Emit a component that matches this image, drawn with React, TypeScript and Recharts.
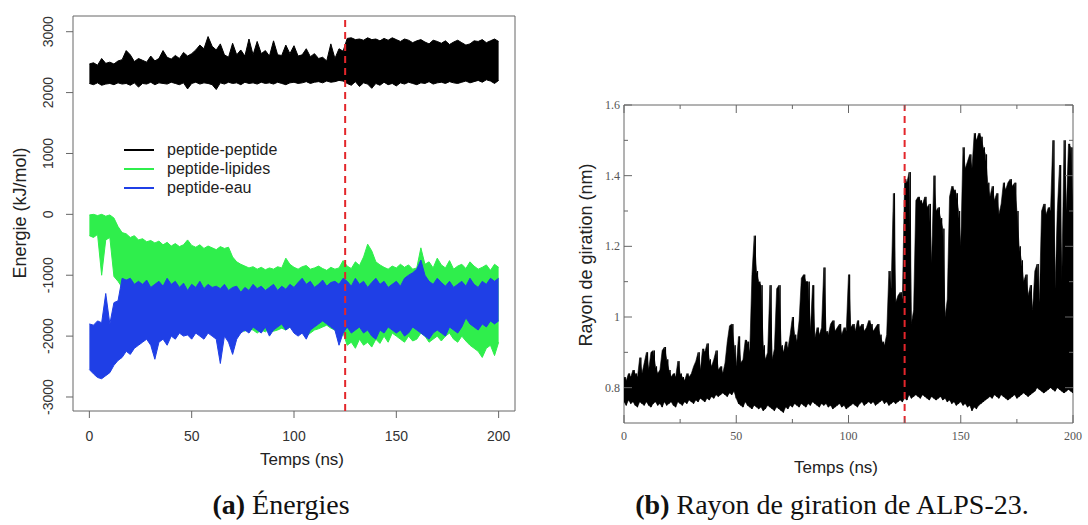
import React from "react";
import { ComposedChart, Area, Line, XAxis, YAxis, ReferenceLine, ReferenceArea, Legend } from "recharts";

// ── (a) energies, lower / upper edge of each noisy trace, every 2 ns ──
const ENERGY_STEP = 2;

const PP_HIGH = [
  2470, 2490, 2450, 2560, 2480, 2500, 2470, 2520, 2540, 2690,
  2620, 2510, 2560, 2530, 2500, 2600, 2520, 2560, 2690, 2580,
  2550, 2610, 2560, 2660, 2600, 2640, 2700, 2780, 2720, 2920,
  2760, 2700, 2800, 2620, 2580, 2810, 2620, 2700, 2600, 2880,
  2620, 2840, 2640, 2690, 2600, 2850, 2620, 2610, 2780, 2640,
  2770, 2600, 2620, 2720, 2590, 2640, 2560, 2580, 2520, 2800,
  2560, 2720, 2680, 2890, 2900, 2870, 2880, 2860, 2900, 2870,
  2880, 2850, 2890, 2860, 2900, 2870, 2840, 2880, 2860, 2820,
  2850, 2870, 2830, 2800, 2860, 2840, 2810, 2850, 2790, 2830,
  2860, 2820, 2780, 2800, 2850, 2840, 2870, 2820, 2850, 2880,
  2840,
];
const PP_LOW = [
  2150, 2130, 2160, 2120, 2140, 2150, 2130, 2160, 2140, 2150,
  2120, 2160, 2090, 2150, 2140, 2170, 2130, 2160, 2150, 2140,
  2170, 2150, 2130, 2160, 2060, 2150, 2170, 2140, 2160, 2150,
  2130, 2050, 2160, 2140, 2170, 2150, 2160, 2130, 2170, 2150,
  2160, 2140, 2170, 2150, 2160, 2140, 2170, 2150, 2130, 2160,
  2170, 2150, 2160, 2180, 2150, 2170, 2180, 2160, 2190, 2170,
  2180, 2200, 2190, 2150, 2120, 2180, 2100, 2160, 2140, 2070,
  2150, 2120, 2170, 2130, 2150, 2110, 2160, 2140, 2170, 2150,
  2130, 2160, 2150, 2180, 2140, 2160, 2170, 2150, 2180, 2160,
  2150, 2170, 2190, 2160, 2180, 2200, 2170, 2210, 2190, 2150,
  2200,
];
const PL_HIGH = [
  -10, 0, -20, 0, -30, -10, -60, -200, -300, -320,
  -380, -350, -420, -400, -450, -430, -470, -440, -500, -460,
  -520, -480, -530, -500, -420, -510, -540, -500, -560, -520,
  -550, -580, -530, -560, -540, -700, -780, -820, -850, -880,
  -860, -900, -870, -910, -880, -900, -860, -880, -720, -820,
  -870, -900, -860, -840, -900, -880, -850, -890, -920, -870,
  -900, -880, -760, -850, -890, -780, -840, -700, -490, -600,
  -780, -830, -870, -900, -850, -880, -820, -870, -830, -900,
  -880, -550, -820, -780, -880, -720, -830, -880, -760, -900,
  -850, -820, -890, -780, -850, -900, -870, -830, -920, -820,
  -870,
];
const PL_LOW = [
  -350, -380, -330, -1000, -420, -380, -1020, -1100, -1200, -1250,
  -1300, -1250, -1300, -1280, -1320, -1300, -1350, -1300, -1320, -1350,
  -1400, -1380, -1400, -1420, -1450, -1500, -1480, -1550, -1600, -1650,
  -1700, -1750, -1800, -1850, -1880, -1900, -1850, -1900, -1920, -1880,
  -1900, -1950, -1900, -1930, -1880, -1920, -1900, -1870, -1900, -1850,
  -1900, -1950, -1920, -2000, -1950, -1900, -1880, -1850, -1820, -1870,
  -1900, -2000, -1950, -2150, -2100, -2200, -2050, -2150, -2100, -2180,
  -2050, -2120, -2000, -2100, -1950, -2000, -2050, -2100, -2000, -2080,
  -2050, -1950, -2000, -2100, -2050, -2000, -2080, -2000, -1950, -2050,
  -2100, -2000, -2080, -2150, -2200, -2250, -2350, -2200, -2150, -2320,
  -2100,
];
const PW_HIGH = [
  -1800, -1820, -1750, -1780, -1300, -1800, -1450, -1420, -1050, -1080,
  -1050, -1150, -1100, -1150, -1080, -1200, -1150, -1100, -1180, -1050,
  -1150, -1100, -1200, -1130, -1250, -1150, -1200, -1100, -1220, -1150,
  -1200, -1180, -1220, -1150, -1250, -1200, -1180, -1280, -1200, -1250,
  -1150, -1220, -1180, -1250, -1200, -1150, -1250, -1180, -1230, -1150,
  -1200, -1120, -1050, -1150, -1100, -1200, -1150, -1080, -1180, -1120,
  -1100, -1150, -1050, -1100, -1180, -1050, -1150, -1100, -1200, -1120,
  -1050, -1150, -1100, -1200, -1150, -1100, -1180, -1050, -1000, -960,
  -900, -750, -1000, -1100, -1150, -1050, -1120, -1180, -1100, -1200,
  -1150, -1100, -1180, -1050, -1150, -1200, -1100, -1150, -1050, -1100,
  -1050,
];
const PW_LOW = [
  -2550, -2620, -2680, -2700, -2650, -2600, -2480, -2400, -2350, -2250,
  -2300, -2200, -2150, -2100, -2050, -2150, -2380, -2100, -2050, -2150,
  -2000, -2050, -1950, -2000, -1980, -2050, -1950, -2000, -2050, -1950,
  -2000, -2050, -2450, -2000, -2100, -2300, -2050, -1950, -1900, -1950,
  -1850, -1900, -1950, -1850, -2000, -1900, -1850, -1800, -1900, -1850,
  -1950, -2000, -1950, -2050, -1900, -1850, -1800, -1750, -1800, -1850,
  -1900, -2150, -1950, -1850, -1950, -1900, -1850, -1950, -1900, -2000,
  -2050, -1900, -1950, -1850, -1900, -1950, -1900, -2000, -1950, -1850,
  -1900, -1950, -2000, -2050, -1950, -1900, -1950, -2000, -1850, -1900,
  -1950, -1850, -1700, -1800, -1850, -1900, -1800, -1850, -1750, -1800,
  -1750,
];

// ── (b) rayon de giration, lower / upper edge every 1 ns ──
const RG_STEP = 1;

const RG_HIGH = [
  0.83, 0.82, 0.84, 0.83, 0.85, 0.84, 0.83, 0.885, 0.84, 0.87,
  0.9, 0.85, 0.9, 0.905, 0.86, 0.84, 0.85, 0.905, 0.915, 0.88,
  0.85, 0.83, 0.84, 0.83, 0.875, 0.84, 0.83, 0.82, 0.84, 0.83,
  0.84, 0.86, 0.875, 0.9, 0.85, 0.91, 0.9, 0.925, 0.88, 0.86,
  0.88, 0.905, 0.85, 0.86, 0.84, 0.87, 0.93, 0.975, 0.98, 0.92,
  0.86, 0.945, 0.87, 0.88, 0.935, 0.93, 0.9, 1.12, 1.23, 1.13,
  1.1, 1.09, 0.92, 0.88, 0.9, 1.09, 0.88, 0.91, 1.08, 1.09,
  0.92, 0.9, 0.93, 0.91, 0.95, 1.0, 0.95, 0.93, 0.99, 1.11,
  1.12, 1.1, 1.1, 0.96, 1.09, 0.94, 0.97, 0.95, 0.97, 1.14,
  0.96, 0.95, 0.98, 0.99, 0.96, 0.97, 0.98, 0.95, 0.97, 0.96,
  1.12, 0.97, 0.98, 0.96, 0.99, 0.97, 0.98, 0.96, 0.97, 0.99,
  0.98, 0.96, 0.97, 0.98, 0.95, 0.93, 0.92, 0.95, 1.13, 1.08,
  1.35, 1.04, 1.06, 1.07, 1.05, 1.39, 1.38, 1.41, 0.98, 1.02,
  1.33, 1.34, 1.33, 1.32, 1.34, 1.31, 1.32, 1.15, 1.4, 1.3,
  1.31, 1.28, 1.25, 1.0, 1.05, 1.34, 1.37, 1.36, 1.35, 1.3,
  1.2, 1.48, 1.42, 1.44, 1.46, 1.42, 1.52, 1.5, 1.52, 1.51,
  1.48, 1.46, 1.38, 1.34, 1.37, 1.33, 1.35, 1.29, 1.32, 1.38,
  1.36, 1.38, 1.39, 1.37, 1.38, 1.3, 1.2, 1.16, 1.1, 1.12,
  1.06, 1.09, 1.02, 1.13, 1.15, 1.04, 1.3, 1.32, 1.29, 1.31,
  1.3, 1.5, 1.08, 1.3, 1.43, 1.1, 1.5, 1.3, 1.49, 1.48,
  1.28,
];
const RG_LOW = [
  0.76, 0.75, 0.765, 0.755, 0.76, 0.75, 0.745, 0.76, 0.755, 0.75,
  0.76, 0.75, 0.745, 0.755, 0.76, 0.75, 0.755, 0.745, 0.76, 0.75,
  0.755, 0.76, 0.75, 0.745, 0.76, 0.755, 0.75, 0.76, 0.755, 0.765,
  0.76, 0.755, 0.765, 0.76, 0.77, 0.765, 0.76, 0.77, 0.765, 0.775,
  0.77, 0.78, 0.775, 0.78, 0.785, 0.78, 0.775, 0.785, 0.78, 0.79,
  0.77, 0.755, 0.75, 0.745, 0.76, 0.75, 0.745, 0.74, 0.75, 0.745,
  0.74, 0.745, 0.735, 0.74, 0.75, 0.745, 0.74, 0.735, 0.745, 0.74,
  0.735, 0.73, 0.745, 0.74, 0.75, 0.745, 0.755, 0.75, 0.745, 0.755,
  0.75, 0.745, 0.755, 0.75, 0.76, 0.755, 0.75, 0.745, 0.755, 0.75,
  0.755, 0.745, 0.75, 0.74, 0.745, 0.75, 0.755, 0.745, 0.75, 0.74,
  0.745, 0.75, 0.755, 0.75, 0.745, 0.755, 0.76, 0.75, 0.755, 0.76,
  0.755, 0.76, 0.75, 0.755, 0.76, 0.765, 0.755, 0.76, 0.75, 0.755,
  0.76, 0.755, 0.76, 0.765, 0.76, 0.77, 0.765, 0.78, 0.77, 0.775,
  0.78, 0.775, 0.77, 0.78, 0.775, 0.77, 0.765, 0.775, 0.77, 0.765,
  0.77, 0.775, 0.765, 0.77, 0.76, 0.765, 0.755, 0.76, 0.75, 0.755,
  0.76, 0.75, 0.755, 0.745, 0.75, 0.735, 0.745, 0.74, 0.75, 0.755,
  0.76, 0.765, 0.77, 0.775, 0.77, 0.78, 0.775, 0.77, 0.78, 0.775,
  0.77, 0.765, 0.77, 0.775, 0.78, 0.77, 0.775, 0.78, 0.785, 0.78,
  0.775, 0.78, 0.785, 0.79, 0.8, 0.795, 0.79, 0.785, 0.79, 0.795,
  0.8, 0.795, 0.79, 0.8, 0.795, 0.79, 0.785, 0.79, 0.795, 0.79,
  0.785,
];

const SERIES_NAMES = ["peptide-peptide", "peptide-lipides", "peptide-eau"];
const SERIES_COLORS = ["#000000", "#2fee4c", "#1f3fe6"];
const TIME_TICKS = [0, 50, 100, 150, 200];
const ENERGY_TICKS = [-3000, -2000, -1000, 0, 1000, 2000, 3000];
const RG_TIME_TICKS = [0, 25, 50, 75, 100, 125, 150, 175, 200];
const RG_TICKS = [0.8, 0.9, 1, 1.1, 1.2, 1.3, 1.4, 1.5, 1.6];
const RG_LABELLED = [0.8, 1, 1.2, 1.4, 1.6];
const SWITCH_NS = 125;

const SANS = "'Liberation Sans', Arial, Helvetica, sans-serif";
const SERIF = "'Liberation Serif', 'Times New Roman', serif";
const FRAME = "#666";
const RED = "#e3262b";

// solid core: the band between the read lower and upper edges
function band(low: number[], high: number[], step: number) {
  return low.map((lo, i) => ({ t: i * step, range: [lo, high[i]] }));
}

// noisy texture: a zigzag through the same edges, upper points half a step later
function zigzag(low: number[], high: number[], step: number, tMax: number) {
  const pts: { t: number; v: number }[] = [];
  low.forEach((lo, i) => {
    const t = i * step;
    pts.push({ t, v: lo });
    pts.push({ t: Math.min(t + step / 2, tMax), v: high[i] });
  });
  return pts;
}

const ENERGY_SERIES = [
  { low: PP_LOW, high: PP_HIGH },
  { low: PL_LOW, high: PL_HIGH },
  { low: PW_LOW, high: PW_HIGH },
].map((s, i) => ({
  name: SERIES_NAMES[i],
  color: SERIES_COLORS[i],
  band: band(s.low, s.high, ENERGY_STEP),
}));
const RG_BAND = band(RG_LOW, RG_HIGH, RG_STEP);
const RG_TRACE = zigzag(RG_LOW, RG_HIGH, RG_STEP, 200);

// ── R-style ticks (outward, rotated y labels) ──
function EnergyXTick({ x, y, payload }: any) {
  return (
    <g>
      <line x1={x} y1={y} x2={x} y2={y + 7} stroke={FRAME} />
      <text x={x} y={y + 25} textAnchor="middle" dominantBaseline="central" fontSize={14} fill="#333" fontFamily={SANS}>
        {payload.value}
      </text>
    </g>
  );
}

function EnergyYTick({ x, y, payload }: any) {
  const tx = x - 25;
  return (
    <g>
      <line x1={x - 7} y1={y} x2={x} y2={y} stroke={FRAME} />
      <text x={tx} y={y} transform={`rotate(-90 ${tx} ${y})`} textAnchor="middle" dominantBaseline="central" fontSize={14} fill="#333" fontFamily={SANS}>
        {payload.value}
      </text>
    </g>
  );
}

// ── xmgrace-style ticks (inward, major + minor) ──
function RgXTick({ x, y, payload }: any) {
  const major = payload.value % 50 === 0;
  return (
    <g>
      <line x1={x} y1={y} x2={x} y2={y - (major ? 8 : 4)} stroke={FRAME} />
      {major && (
        <text x={x} y={y + 13} textAnchor="middle" dominantBaseline="central" fontSize={12} fill="#555" fontFamily={SERIF}>
          {payload.value}
        </text>
      )}
    </g>
  );
}

function RgTopTick({ x, y, payload }: any) {
  const major = payload.value % 50 === 0;
  return <line x1={x} y1={y} x2={x} y2={y + (major ? 8 : 4)} stroke={FRAME} />;
}

function RgYTick({ x, y, payload }: any) {
  const major = RG_LABELLED.includes(payload.value);
  return (
    <g>
      <line x1={x} y1={y} x2={x + (major ? 8 : 4)} y2={y} stroke={FRAME} />
      {major && (
        <text x={x - 4} y={y} textAnchor="end" dominantBaseline="central" fontSize={12} fill="#555" fontFamily={SERIF}>
          {payload.value}
        </text>
      )}
    </g>
  );
}

function RgRightTick({ x, y, payload }: any) {
  const major = RG_LABELLED.includes(payload.value);
  return <line x1={x} y1={y} x2={x - (major ? 8 : 4)} y2={y} stroke={FRAME} />;
}

function EnergyLegend({ payload }: any) {
  const items = (payload ?? [])
    .filter((p: any) => SERIES_NAMES.includes(p.value))
    .sort((a: any, b: any) => SERIES_NAMES.indexOf(a.value) - SERIES_NAMES.indexOf(b.value));
  return (
    <div style={{ fontFamily: SANS, fontSize: 16, color: "#222" }}>
      {items.map((p: any) => (
        <div key={p.value} style={{ display: "flex", alignItems: "center", height: 19 }}>
          <span style={{ width: 30, height: 2, background: p.color, marginRight: 13, display: "inline-block" }} />
          <span>{p.value}</span>
        </div>
      ))}
    </div>
  );
}

const abs = (left: number, top: number): React.CSSProperties => ({ position: "absolute", left, top });

export default function App() {
  return (
    <div style={{ position: "absolute", left: 0, top: 0, width: 1088, height: 525, background: "#fff", overflow: "hidden" }}>
      {/* (a) Énergies */}
      <div style={abs(0, 0)}>
        <ComposedChart width={520} height={480} margin={{ top: 16, right: 5, bottom: 39, left: 0 }}>
          <XAxis dataKey="t" type="number" domain={[-8, 208]} ticks={TIME_TICKS} allowDataOverflow
            axisLine={false} tickLine={false} tickSize={0} tickMargin={0} height={30} interval={0} tick={<EnergyXTick />} />
          <YAxis type="number" domain={[-3230, 3258]} ticks={ENERGY_TICKS} allowDataOverflow
            axisLine={false} tickLine={false} tickSize={0} tickMargin={0} width={73} interval={0} tick={<EnergyYTick />} />
          <ReferenceArea x1={-8} x2={208} y1={-3230} y2={3258} fill="none" stroke={FRAME} strokeWidth={1} />
          {ENERGY_SERIES.map((s) => (
            <Area key={s.name} data={s.band} dataKey="range" name={s.name} type="linear"
              stroke={s.color} fill={s.color} fillOpacity={1} strokeWidth={1} isAnimationActive={false} />
          ))}
          <ReferenceLine x={SWITCH_NS} stroke={RED} strokeWidth={2} strokeDasharray="7 5" />
          <Legend layout="vertical" align="center" verticalAlign="middle" content={<EnergyLegend />}
            wrapperStyle={{ left: 124, top: 140, width: 200 }} />
        </ComposedChart>
      </div>
      <div style={{ ...abs(232, 449), width: 140, textAlign: "center", fontFamily: SANS, fontSize: 17, color: "#222", lineHeight: "22px" }}>
        Temps (ns)
      </div>
      <div style={{ ...abs(-80, 202), width: 200, textAlign: "center", fontFamily: SANS, fontSize: 18, color: "#222", lineHeight: "22px", transform: "rotate(-90deg)" }}>
        Energie (kJ/mol)
      </div>

      {/* (b) Rayon de giration */}
      <div style={abs(560, 80)}>
        <ComposedChart width={528} height={420} margin={{ top: 20, right: 10, bottom: 47, left: 24 }}>
          <XAxis dataKey="t" type="number" domain={[0, 200]} ticks={RG_TIME_TICKS} allowDataOverflow
            axisLine={false} tickLine={false} tickSize={0} tickMargin={0} height={30} interval={0} tick={<RgXTick />} />
          <XAxis xAxisId="top" orientation="top" dataKey="t" type="number" domain={[0, 200]} ticks={RG_TIME_TICKS} allowDataOverflow
            axisLine={false} tickLine={false} tickSize={0} tickMargin={0} height={5} interval={0} tick={<RgTopTick />} />
          <YAxis type="number" domain={[0.7, 1.6]} ticks={RG_TICKS} allowDataOverflow
            axisLine={false} tickLine={false} tickSize={0} tickMargin={0} width={40} interval={0} tick={<RgYTick />} />
          <YAxis yAxisId="right" orientation="right" type="number" domain={[0.7, 1.6]} ticks={RG_TICKS} allowDataOverflow
            axisLine={false} tickLine={false} tickSize={0} tickMargin={0} width={5} interval={0} tick={<RgRightTick />} />
          <ReferenceArea x1={0} x2={200} y1={0.7} y2={1.6} fill="none" stroke={FRAME} strokeWidth={1} />
          <Area data={RG_BAND} dataKey="range" type="linear" stroke="#000000" fill="#000000" fillOpacity={1} strokeWidth={0.6} isAnimationActive={false} />
          <Line data={RG_TRACE} dataKey="v" type="linear" stroke="#000000" strokeWidth={1} dot={false} isAnimationActive={false} />
          <ReferenceLine x={SWITCH_NS} stroke={RED} strokeWidth={2} strokeDasharray="7 5" />
        </ComposedChart>
      </div>
      <div style={{ ...abs(766, 457), width: 140, textAlign: "center", fontFamily: SANS, fontSize: 17, color: "#222", lineHeight: "22px" }}>
        Temps (ns)
      </div>
      <div style={{ ...abs(466, 244), width: 240, textAlign: "center", fontFamily: SANS, fontSize: 18, color: "#222", lineHeight: "22px", transform: "rotate(-90deg)" }}>
        Rayon de giration (nm)
      </div>

      {/* captions */}
      <div style={{ ...abs(131, 488), width: 300, textAlign: "center", fontFamily: SERIF, fontSize: 28, color: "#111", lineHeight: "34px" }}>
        <b>(a)</b> Énergies
      </div>
      <div style={{ ...abs(582, 488), width: 500, textAlign: "center", fontFamily: SERIF, fontSize: 28, color: "#111", lineHeight: "34px" }}>
        <b>(b)</b> Rayon de giration de ALPS-23.
      </div>
    </div>
  );
}
